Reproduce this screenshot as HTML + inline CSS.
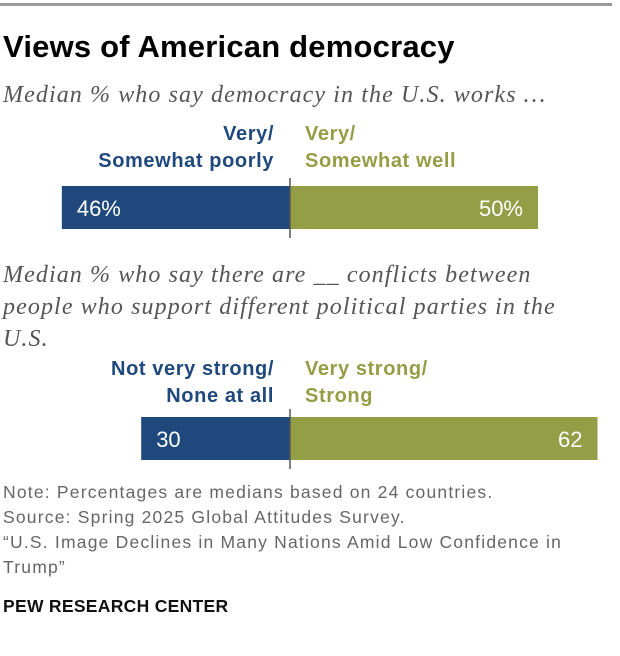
<!DOCTYPE html>
<html><head><meta charset="utf-8"><style>
body{margin:0;width:620px;height:656px;background:#fff;position:relative;overflow:hidden;font-family:"Liberation Sans",sans-serif}
.a{position:absolute;margin:0;white-space:nowrap}
.t{font-weight:bold;font-size:31px;left:3px;top:29px;color:#000;letter-spacing:0.2px}
.s{font-family:"Liberation Serif",serif;font-style:italic;font-size:24px;color:#555;left:3px;line-height:32px;letter-spacing:1.1px}
.lab{font-weight:bold;font-size:20px;line-height:27px;letter-spacing:0.6px}
.b{color:#1f497d}.g{color:#949e46}
.n{font-size:17.5px;color:#666;left:3px;line-height:25px;letter-spacing:1.2px}
</style></head><body>
<div class="a" style="left:0;top:3px;width:612px;height:3px;background:#9a9a9a"></div>
<h1 class="a t">Views of American democracy</h1>
<p class="a s" style="top:79px">Median % who say democracy in the U.S. works …</p>
<div class="a lab b" style="right:346px;top:121px;text-align:right">Very/<br>Somewhat poorly</div>
<div class="a lab g" style="left:305px;top:121px">Very/<br>Somewhat well</div>
<p class="a s" style="top:259px">Median % who say there are __ conflicts between<br>people who support different political parties in the<br>U.S.</p>
<div class="a lab b" style="right:346px;top:356px;text-align:right">Not very strong/<br>None at all</div>
<div class="a lab g" style="left:305px;top:356px">Very strong/<br>Strong</div>
<svg class="a" style="left:0;top:0" width="620" height="656"></svg>
<p class="a n" style="top:480px">Note: Percentages are medians based on 24 countries.<br>Source: Spring 2025 Global Attitudes Survey.<br>“U.S. Image Declines in Many Nations Amid Low Confidence in<br>Trump”</p>
<p class="a" style="left:3px;top:596px;font-size:17.5px;font-weight:bold;color:#111;letter-spacing:0.3px">PEW RESEARCH CENTER</p>
<script>
const categories=["democracy-works","party-conflicts"];
const negValues=[46,30];
const posValues=[50,62];
const negLabels=["46%","30"];
const posLabels=["50%","62"];
const center=290,scale=4.96,barTops=[186,417],barH=43;
const x=v=>v*scale;
const svg=document.querySelector('svg');
const NS='http://www.w3.org/2000/svg';
function mk(t,a){const e=document.createElementNS(NS,t);for(const k in a)e.setAttribute(k,a[k]);svg.appendChild(e);return e;}
categories.forEach((c,i)=>{
  const y=barTops[i];
  const nb=mk('rect',{x:center-x(negValues[i]),y:y,width:x(negValues[i]),height:barH,fill:'#1f497d'});
  
  
  const pb=mk('rect',{x:center,y:y,width:x(posValues[i]),height:barH,fill:'#949e46'});
  
  
  const nt=mk('text',{x:center-x(negValues[i])+15,y:y+30,fill:'#fff','font-size':22,'font-family':'Liberation Sans, sans-serif'});
  nt.textContent=negLabels[i];
  
  
  const pt=mk('text',{x:center+x(posValues[i])-15,y:y+30,fill:'#fff','font-size':22,'text-anchor':'end','font-family':'Liberation Sans, sans-serif'});
  pt.textContent=posLabels[i];
  
  
  const ln=mk('line',{x1:center,x2:center,y1:y-8,y2:y+barH+9,stroke:'#555','stroke-width':1.5});
  
  
});
</script>
</body></html>
